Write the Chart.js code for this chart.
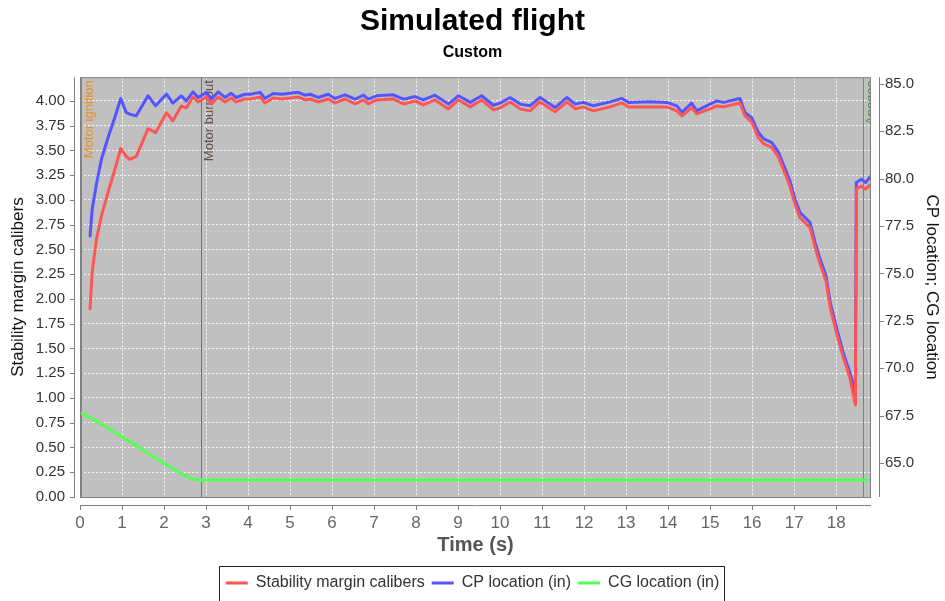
<!DOCTYPE html>
<html>
<head>
<meta charset="utf-8">
<script src="https://cdn.jsdelivr.net/npm/chart.js@4.4.1/dist/chart.umd.min.js"></script>
<style>
  html, body { margin: 0; padding: 0; background: #fff; }
</style>
</head>
<body>
<canvas id="flightChart" width="945" height="601"></canvas>
<script>
// flight data
var times = [0, 0.24, 0.29, 0.39, 0.51, 0.67, 0.83, 0.97, 1.10, 1.18, 1.34, 1.62, 1.80, 2.06, 2.21, 2.41, 2.53, 2.69, 2.81,
  3.01, 3.13, 3.29, 3.45, 3.60, 3.72, 3.92, 4.05, 4.29, 4.40, 4.60, 4.80, 5.00, 5.20, 5.35, 5.48, 5.67, 5.91, 6.07, 6.31,
  6.55, 6.75, 6.86, 7.06, 7.46, 7.70, 7.98, 8.17, 8.45, 8.77, 9.01, 9.29, 9.56, 9.84, 10.00, 10.24, 10.48, 10.71, 10.95,
  11.31, 11.59, 11.79, 11.98, 12.22, 12.62, 12.90, 13.06, 13.57, 13.97, 14.21, 14.33, 14.56, 14.68, 15.00, 15.16, 15.32,
  15.71, 15.83, 15.99, 16.15, 16.27, 16.47, 16.63, 16.79, 16.90, 17.02, 17.14, 17.38, 17.50, 17.62, 17.76, 17.86, 18.02,
  18.17, 18.33, 18.46, 18.48, 18.60, 18.70, 18.83];

var stability = [null, 1.90, 2.27, 2.60, 2.84, 3.08, 3.31, 3.52, 3.44, 3.41, 3.44, 3.72, 3.68, 3.88, 3.80, 3.95, 3.93, 4.04, 3.99,
  4.04, 3.97, 4.04, 3.99, 4.03, 3.99, 4.02, 4.02, 4.04, 3.98, 4.03, 4.02, 4.03, 4.04, 4.01, 4.02, 3.99, 4.02, 3.98, 4.02,
  3.97, 4.01, 3.97, 4.01, 4.02, 3.97, 4.00, 3.96, 4.01, 3.92, 4.01, 3.94, 4.01, 3.91, 3.93, 3.99, 3.92, 3.90, 3.99,
  3.89, 3.99, 3.92, 3.94, 3.90, 3.94, 3.98, 3.94, 3.94, 3.94, 3.90, 3.85, 3.93, 3.87, 3.92, 3.95, 3.94,
  3.98, 3.85, 3.79, 3.63, 3.57, 3.53, 3.43, 3.26, 3.14, 2.96, 2.82, 2.72, 2.52, 2.35, 2.18, 1.91, 1.64,
  1.41, 1.20, 0.93, 3.11, 3.14, 3.11, 3.16];

var cpLocation = [null, 76.97, 78.38, 79.70, 81.02, 82.18, 83.24, 84.23, 83.49, 83.40, 83.31, 84.37, 83.84, 84.46, 83.98, 84.37, 84.10, 84.58, 84.28,
  84.55, 84.19, 84.58, 84.28, 84.50, 84.28, 84.45, 84.45, 84.55, 84.23, 84.49, 84.45, 84.50, 84.55, 84.40, 84.45, 84.28, 84.45, 84.23, 84.42,
  84.19, 84.40, 84.19, 84.37, 84.42, 84.19, 84.33, 84.15, 84.40, 83.93, 84.37, 84.02, 84.37, 83.87, 83.98, 84.28, 83.93, 83.84, 84.28,
  83.75, 84.28, 83.93, 84.02, 83.84, 84.05, 84.23, 84.02, 84.05, 84.02, 83.84, 83.49, 83.98, 83.57, 83.93, 84.10, 84.02,
  84.23, 83.49, 83.22, 82.43, 82.11, 81.90, 81.38, 80.49, 79.88, 78.91, 78.21, 77.68, 76.62, 75.74, 74.86, 73.45, 72.04,
  70.81, 69.75, 68.78, 79.79, 79.97, 79.79, 80.14];

var cgLocation = [67.66, 67.38, 67.32, 67.20, 67.04, 66.84, 66.60, 66.42, 66.24, 66.13, 65.91, 65.52, 65.26, 64.90, 64.70, 64.44, 64.30, 64.14, 64.10,
  64.10, 64.10, 64.10, 64.10, 64.10, 64.10, 64.10, 64.10, 64.10, 64.10, 64.10, 64.10, 64.10, 64.10, 64.10, 64.10, 64.10, 64.10, 64.10, 64.10,
  64.10, 64.10, 64.10, 64.10, 64.10, 64.10, 64.10, 64.10, 64.10, 64.10, 64.10, 64.10, 64.10, 64.10, 64.10, 64.10, 64.10, 64.10, 64.10,
  64.10, 64.10, 64.10, 64.10, 64.10, 64.10, 64.10, 64.10, 64.10, 64.10, 64.10, 64.10, 64.10, 64.10, 64.10, 64.10, 64.10,
  64.10, 64.10, 64.10, 64.10, 64.10, 64.10, 64.10, 64.10, 64.10, 64.10, 64.10, 64.10, 64.10, 64.10, 64.10, 64.10, 64.10,
  64.10, 64.10, 64.10, 64.10, 64.10, 64.10, 64.10];

var eventNames = ['Motor ignition', 'Motor burnout', 'Apogee'];
var eventTimes = [0.02, 2.89, 18.65];
var eventLineColors = ['#b07a40', '#7a6e66', '#5c9a5c'];
var eventTextColors = ['#e0922e', '#5e5048', '#3f8f3f'];

var FONT = "'Liberation Sans', Arial, sans-serif";

function pairs(vals) {
  return times.map(function (t, i) { return { x: t, y: vals[i] }; });
}

// grey plot area, offset axes and event markers (JFreeChart look)
var flightDecor = {
  id: 'flightDecor',
  beforeDraw: function (chart) {
    var ctx = chart.ctx, a = chart.chartArea;
    ctx.save();
    ctx.fillStyle = '#fff';
    ctx.fillRect(0, 0, chart.width, chart.height);
    ctx.fillStyle = '#c0c0c0';
    ctx.fillRect(a.left, a.top, a.right - a.left, a.bottom - a.top);
    ctx.restore();
  },
  beforeDatasetsDraw: function (chart) {
    var ctx = chart.ctx, a = chart.chartArea, xs = chart.scales.x;
    ctx.save();
    ctx.beginPath();
    ctx.rect(a.left, a.top, a.right - a.left, a.bottom - a.top);
    ctx.clip();
    eventTimes.forEach(function (t, i) {
      var px = Math.round(xs.getPixelForValue(t)) + 0.5;
      ctx.strokeStyle = eventLineColors[i];
      ctx.lineWidth = 1;
      ctx.beginPath();
      ctx.moveTo(px, a.top);
      ctx.lineTo(px, a.bottom);
      ctx.stroke();
      ctx.save();
      ctx.translate(px + 1, a.top + 3);
      ctx.rotate(-Math.PI / 2);
      ctx.fillStyle = eventTextColors[i];
      ctx.font = '13px ' + FONT;
      ctx.textAlign = 'right';
      ctx.textBaseline = 'top';
      ctx.fillText(eventNames[i], 0, 0);
      ctx.restore();
    });
    ctx.restore();
  },
  afterDraw: function (chart) {
    var ctx = chart.ctx, a = chart.chartArea;
    var yl = chart.scales.y, yr = chart.scales.y1, xs = chart.scales.x;
    ctx.save();
    ctx.strokeStyle = '#808080';
    ctx.lineWidth = 1;
    ctx.strokeRect(a.left + 0.5, a.top + 0.5, a.right - a.left - 1, a.bottom - a.top);
    ctx.beginPath();
    // left axis
    ctx.moveTo(a.left - 5.5, a.top);
    ctx.lineTo(a.left - 5.5, a.bottom);
    yl.ticks.forEach(function (tk) {
      var py = Math.round(yl.getPixelForValue(tk.value)) + 0.5;
      ctx.moveTo(a.left - 10, py);
      ctx.lineTo(a.left - 5, py);
    });
    // right axis
    ctx.moveTo(a.right + 8.5, a.top);
    ctx.lineTo(a.right + 8.5, a.bottom);
    yr.ticks.forEach(function (tk) {
      var py = Math.round(yr.getPixelForValue(tk.value)) + 0.5;
      ctx.moveTo(a.right + 8, py);
      ctx.lineTo(a.right + 13, py);
    });
    // bottom axis
    ctx.moveTo(a.left, a.bottom + 8.5);
    ctx.lineTo(a.right, a.bottom + 8.5);
    xs.ticks.forEach(function (tk) {
      var px = Math.round(xs.getPixelForValue(tk.value)) + 0.5;
      ctx.moveTo(px, a.bottom + 8);
      ctx.lineTo(px, a.bottom + 13);
    });
    ctx.stroke();

    // frame round the legend
    var boxes = chart.legend.legendHitBoxes;
    if (boxes && boxes.length) {
      var l = boxes[0].left, r = boxes[boxes.length - 1].left + boxes[boxes.length - 1].width;
      var t = boxes[0].top;
      ctx.strokeStyle = '#222';
      ctx.strokeRect(Math.round(l) - 6.5, Math.round(t) - 8.5, Math.round(r - l) + 12, 60);
    }
    ctx.restore();
  }
};

var ctx = document.getElementById('flightChart').getContext('2d');
var flightChart = new Chart(ctx, {
  type: 'line',
  data: {
    datasets: [{
      label: 'Stability margin calibers',
      data: pairs(stability),
      yAxisID: 'y',
      borderColor: '#ff5555',
      backgroundColor: '#ff5555',
      borderWidth: 3
    }, {
      label: 'CP location (in)',
      data: pairs(cpLocation),
      yAxisID: 'y1',
      borderColor: '#5555ff',
      backgroundColor: '#5555ff',
      borderWidth: 3
    }, {
      label: 'CG location (in)',
      data: pairs(cgLocation),
      yAxisID: 'y1',
      borderColor: '#55ff55',
      backgroundColor: '#55ff55',
      borderWidth: 3
    }]
  },
  options: {
    responsive: false,
    animation: false,
    layout: { padding: 0 },
    elements: {
      point: { radius: 0 },
      line: { tension: 0, borderJoinStyle: 'round', borderCapStyle: 'round' }
    },
    plugins: {
      title: {
        display: true,
        text: 'Simulated flight',
        color: '#000',
        font: { family: FONT, size: 30, weight: 'bold' },
        padding: { top: 4, bottom: 0 }
      },
      subtitle: {
        display: true,
        text: 'Custom',
        color: '#000',
        font: { family: FONT, size: 16, weight: 'bold' },
        padding: { top: 3, bottom: 15 }
      },
      legend: {
        position: 'bottom',
        labels: {
          color: '#333',
          font: { family: FONT, size: 16 },
          usePointStyle: true,
          pointStyle: 'line',
          pointStyleWidth: 22,
          padding: 7
        }
      },
      tooltip: { enabled: false }
    },
    scales: {
      x: {
        type: 'linear',
        min: 0,
        max: 18.83,
        ticks: {
          stepSize: 1,
          includeBounds: false,
          color: '#666',
          font: { family: FONT, size: 17 },
          padding: 4,
          maxRotation: 0
        },
        grid: { color: 'rgba(255,255,255,0.85)', tickColor: 'rgba(0,0,0,0)', tickLength: 12 },
        border: { display: false, dash: [2, 2] },
        title: {
          display: true,
          text: 'Time (s)',
          color: '#555',
          font: { family: FONT, size: 20, weight: 'bold' },
          padding: { top: 0, bottom: 11 }
        },
        afterFit: function (scale) {
          scale.height = 601 - 497 - scale.chart.legend.height;
        }
      },
      y: {
        position: 'left',
        min: 0,
        max: 4.24,
        ticks: {
          stepSize: 0.25,
          includeBounds: false,
          color: '#333',
          font: { family: FONT, size: 15 },
          padding: 4,
          callback: function (v) { return v.toFixed(2); }
        },
        grid: { color: 'rgba(255,255,255,0.85)', tickColor: 'rgba(0,0,0,0)', tickLength: 11 },
        border: { display: false, dash: [2, 2] },
        title: {
          display: true,
          text: 'Stability margin calibers',
          color: '#111',
          font: { family: FONT, size: 17 },
          padding: { top: 8, bottom: 0 }
        },
        afterFit: function (scale) { scale.width = 80; }
      },
      y1: {
        position: 'right',
        min: 63.2,
        max: 85.35,
        ticks: {
          stepSize: 2.5,
          includeBounds: false,
          color: '#333',
          font: { family: FONT, size: 15 },
          padding: 4,
          callback: function (v) { return v.toFixed(1); }
        },
        grid: { drawOnChartArea: false, tickColor: 'rgba(0,0,0,0)', tickLength: 10 },
        border: { display: false },
        title: {
          display: true,
          text: 'CP location; CG location',
          color: '#111',
          font: { family: FONT, size: 17 },
          padding: { top: 3, bottom: 0 }
        },
        afterFit: function (scale) { scale.width = 74; }
      }
    }
  },
  plugins: [flightDecor]
});
</script>
</body>
</html>
